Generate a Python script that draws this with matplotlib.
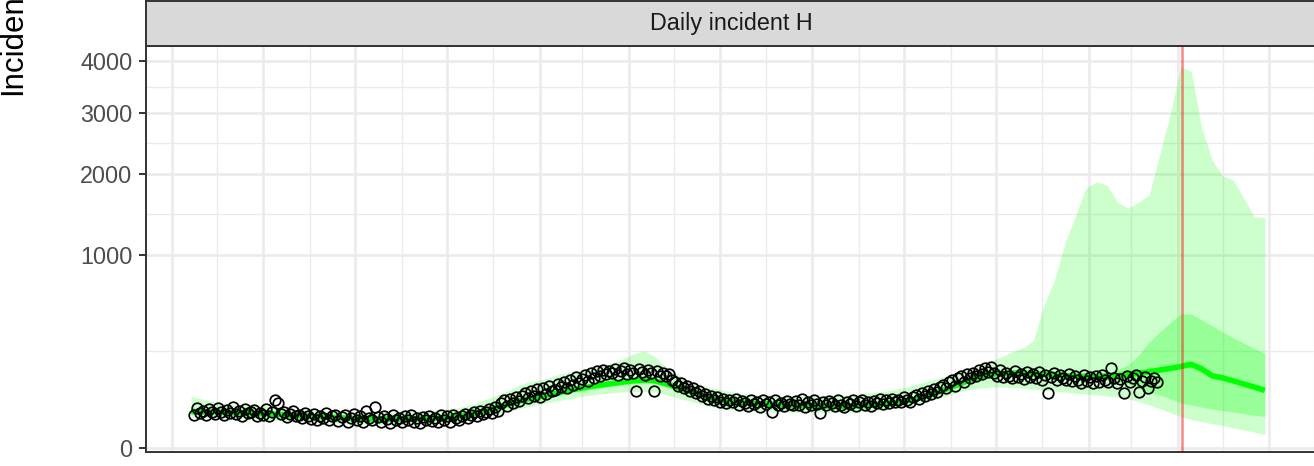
import numpy as np
import pandas as pd
import matplotlib
matplotlib.use('Agg')
import matplotlib.pyplot as plt
import matplotlib.dates as md

plt.rcParams['font.family'] = ['Liberation Sans', 'DejaVu Sans']

# observed daily incident H, one value every 2 days from 2020-06-16
obs_start = '2020-06-16'
obs = [30, 44, 33, 38, 29, 41, 35, 31, 43, 36,
       29, 40, 34, 45, 31, 37, 28, 42, 33, 36,
       39, 28, 34, 30, 41, 27, 36, 62, 55, 31,
       35, 26, 32, 38, 27, 30, 24, 33, 28, 23,
       31, 22, 28, 25, 33, 21, 27, 30, 20, 26,
       29, 19, 25, 31, 21, 27, 18, 37, 24, 22,
       46, 26, 19, 28, 23, 17, 29, 22, 25, 18,
       27, 21, 30, 19, 24, 17, 26, 22, 28, 20,
       25, 19, 29, 22, 27, 18, 30, 24, 21, 28,
       32, 25, 29, 35, 27, 38, 31, 36, 42, 33,
       45, 38, 55, 62, 48, 66, 54, 70, 59, 74,
       82, 68, 88, 74, 94, 70, 98, 80, 104, 86,
       92, 110, 100, 118, 96, 125, 108, 135, 112, 128,
       145, 122, 152, 133, 160, 140, 165, 146, 158, 150,
       166, 145, 158, 172, 148, 162, 150, 88, 168, 155,
       145, 163, 152, 86, 158, 140, 152, 138, 146, 124,
       118, 102, 112, 96, 104, 88, 96, 82, 86, 72,
       78, 66, 74, 62, 70, 58, 66, 54, 63, 57,
       64, 50, 60, 55, 48, 62, 53, 58, 46, 61,
       52, 58, 35, 63, 50, 55, 47, 60, 53, 49,
       59, 51, 64, 45, 56, 50, 62, 53, 33, 57,
       49, 60, 54, 47, 63, 51, 45, 58, 52, 61,
       48, 56, 62, 50, 58, 47, 60, 54, 64, 52,
       62, 55, 66, 58, 63, 56, 69, 61, 58, 70,
       75, 64, 82, 72, 88, 78, 94, 84, 100, 108,
       96, 118, 124, 105, 132, 138, 118, 146, 130, 152,
       140, 162, 148, 170, 155, 175, 150, 140, 165, 134,
       152, 138, 130, 158, 136, 149, 128, 155, 134, 147,
       130, 154, 126, 145, 81, 136, 150, 124, 142, 131,
       126, 146, 120, 138, 124, 114, 142, 122, 134, 115,
       138, 118, 145, 126, 116, 172, 132, 112, 128, 81,
       138, 116, 130, 142, 85, 122, 135, 96, 120, 130,
       116]

# model quantiles, weekly from 2020-06-14
band_start = '2020-06-14'
med = [36, 36, 35, 35, 34, 34, 33, 32, 31, 30, 29, 28, 27, 26, 25, 24, 23, 23, 23, 23,
       23, 23, 24, 24, 25, 26, 29, 33, 38, 44, 51, 58, 65, 71, 77, 83, 90, 96, 102, 107,
       112, 117, 121, 124, 122, 112, 101, 90, 80, 71, 64, 60, 57, 55, 53, 52, 51, 50, 49, 48,
       48, 47, 47, 48, 49, 51, 53, 56, 60, 66, 75, 85, 97, 110, 125, 138, 146, 150, 151, 150,
       148, 146, 143, 141, 139, 138, 138, 139, 141, 144, 150, 156, 163, 170, 178, 188, 168, 140, 132, 121,
       110, 100, 89]
lo50 = [31, 31, 30, 30, 29, 29, 28, 27, 26, 25, 24, 23, 22, 22, 21, 20, 19, 19, 19, 19,
        19, 19, 20, 20, 21, 22, 24, 28, 32, 38, 45, 51, 58, 63, 69, 75, 82, 87, 93, 98,
        103, 107, 111, 114, 112, 103, 92, 82, 72, 64, 57, 53, 50, 48, 47, 46, 45, 44, 43, 42,
        42, 41, 41, 42, 43, 45, 47, 49, 53, 59, 68, 77, 88, 101, 115, 128, 135, 139, 140, 139,
        137, 135, 132, 130, 129, 128, 128, 125, 118, 110, 95, 85, 75, 66, 55, 50, 45, 41, 38, 35,
        32, 29, 27]
hi50 = [42, 42, 40, 40, 39, 39, 38, 37, 36, 35, 34, 33, 32, 31, 30, 29, 28, 28, 28, 28,
        28, 28, 29, 29, 30, 31, 34, 38, 44, 50, 58, 65, 72, 79, 85, 91, 99, 105, 111, 117,
        122, 127, 131, 134, 132, 122, 110, 99, 88, 79, 71, 67, 64, 62, 60, 59, 58, 57, 56, 55,
        55, 53, 53, 55, 56, 58, 60, 63, 67, 73, 83, 94, 106, 120, 135, 149, 157, 161, 162, 161,
        159, 157, 154, 152, 150, 149, 149, 152, 165, 185, 230, 300, 360, 420, 480, 480, 440, 400, 360, 325,
        295, 265, 240]
lo95 = [26, 26, 25, 25, 24, 24, 23, 22, 21, 20, 20, 19, 18, 17, 17, 16, 16, 15, 15, 15,
        15, 15, 16, 16, 17, 18, 20, 23, 27, 31, 36, 41, 46, 51, 56, 61, 66, 71, 75, 79,
        82, 85, 86, 86, 84, 78, 70, 62, 55, 48, 43, 40, 38, 37, 36, 35, 35, 34, 34, 34,
        34, 34, 34, 35, 36, 38, 40, 43, 47, 52, 59, 67, 76, 85, 92, 97, 100, 100, 98, 96,
        93, 90, 87, 84, 81, 78, 76, 73, 70, 66, 58, 50, 42, 34, 27, 22, 19, 16, 14, 11,
        9, 7, 5]
hi95 = [73, 65, 59, 54, 52, 50, 50, 47, 45, 43, 41, 39, 37, 37, 35, 35, 35, 35, 35, 35,
        35, 37, 37, 39, 41, 43, 47, 54, 64, 75, 87, 103, 117, 124, 132, 147, 155, 159, 168, 181,
        194, 213, 237, 253, 227, 181, 151, 128, 114, 100, 94, 87, 81, 78, 75, 73, 73, 73, 73, 73,
        73, 75, 75, 78, 81, 84, 87, 94, 100, 110, 121, 132, 143, 155, 168, 181, 203, 223, 248, 269,
        308, 542, 750, 1118, 1434, 1803, 1887, 1845, 1613, 1536, 1613, 1706, 2291, 2962, 3881, 3779, 2735, 2213, 1974, 1916,
        1666, 1422, 1422]

forecast_date = '2022-04-04'
yticks = [0, 1000, 2000, 3000, 4000]

obs_dates = pd.date_range(obs_start, periods=len(obs), freq='2D')
band_dates = pd.date_range(band_start, periods=len(med), freq='7D')


def fwd(v):
    return np.sign(v) * np.sqrt(np.abs(v))


def inv(v):
    return np.sign(v) * v**2


W, H = 1314, 466
fig = plt.figure(figsize=(W/100, H/100), dpi=100)
left, right = 146/W, 1316/W
ax = fig.add_axes([left, 1-452/H, right-left, (452-46)/H])
strip = fig.add_axes([left, 1-46/H, right-left, 45/H])

ax.fill_between(band_dates, lo95, hi95, color='#00FF00', alpha=0.2, lw=0)
ax.fill_between(band_dates, lo50, hi50, color='#00FF00', alpha=0.25, lw=0)
ax.plot(band_dates, med, color='#00FF00', lw=4, solid_capstyle='butt')
ax.plot(obs_dates, obs, 'o', mfc='none', mec='black', ms=7.6, mew=1.25)
ax.axvline(pd.Timestamp(forecast_date), color='red', alpha=0.45, lw=1.9)

ax.set_yscale('function', functions=(fwd, inv))
ax.set_ylim(-0.36, 4310)
ax.set_xlim(pd.Timestamp('2020-05-15'), pd.Timestamp('2022-07-02'))

sq = np.sqrt(yticks)
ax.set_yticks(yticks)
ax.set_yticks(((sq[:-1]+sq[1:])/2)**2, minor=True)
ax.xaxis.set_major_locator(md.MonthLocator(bymonth=[2, 4, 6, 8, 10, 12]))
ax.xaxis.set_minor_locator(md.MonthLocator(bymonth=[1, 3, 5, 7, 9, 11]))

ax.grid(which='major', color='#EBEBEB', lw=1.9)
ax.grid(which='minor', color='#EBEBEB', lw=0.95)
ax.set_axisbelow(True)
ax.tick_params(axis='x', which='both', length=0, labelbottom=False)
ax.tick_params(axis='y', which='minor', length=0)
ax.tick_params(axis='y', which='major', length=5.2, width=1.4, color='#333333',
               labelsize=16.8, labelcolor='#4D4D4D', pad=4.5)
for s in ax.spines.values():
    s.set_color('#333333')
    s.set_linewidth(1.4)

strip.set_facecolor('#D9D9D9')
strip.set_xticks([])
strip.set_yticks([])
for s in strip.spines.values():
    s.set_color('#333333')
    s.set_linewidth(1.4)
strip.text(0.5, 0.5, 'Daily incident H', ha='center', va='center',
           fontsize=16.8, color='#1A1A1A', transform=strip.transAxes)

fig.text(13/W, 1-95/H, 'Incident', rotation=90, ha='center', va='bottom',
         fontsize=22.5, color='black')

plt.savefig('out.png', dpi=100)
